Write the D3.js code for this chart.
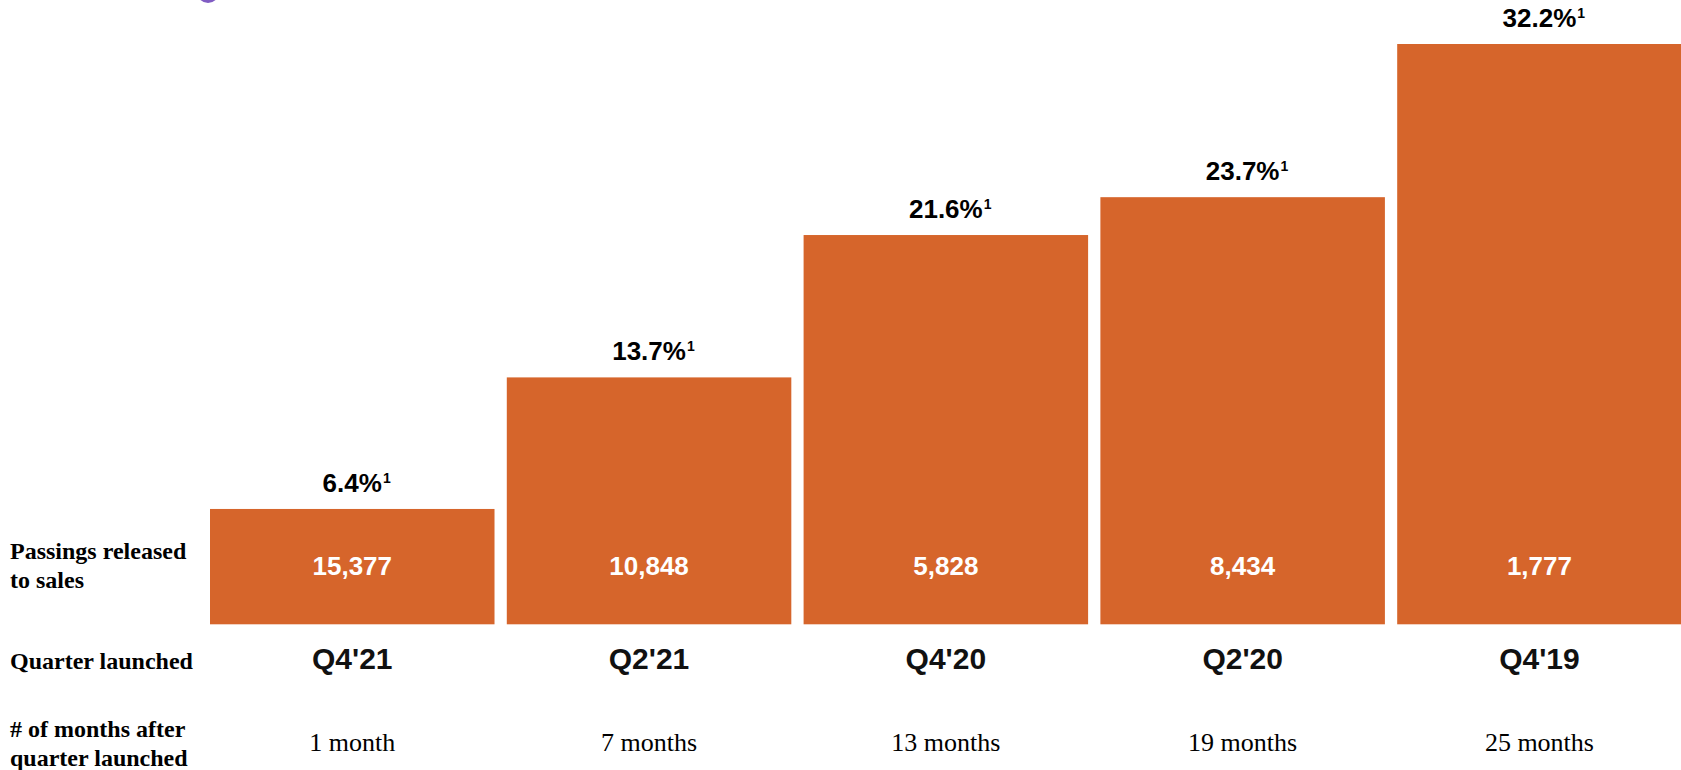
<!DOCTYPE html>
<html>
<head>
<meta charset="utf-8">
<script src="https://cdn.jsdelivr.net/npm/d3@7"></script>
<style>
  html, body { margin: 0; padding: 0; background: #ffffff; overflow: hidden; }
  svg { display: block; }
</style>
</head>
<body>
<svg id="chart" width="1681" height="770"></svg>
<script>
// Penetration by launch cohort
const quarters = ["Q4'21", "Q2'21", "Q4'20", "Q2'20", "Q4'19"];
const penetration = [6.4, 13.7, 21.6, 23.7, 32.2];
const passings = [15377, 10848, 5828, 8434, 1777];
const monthsAfter = ["1 month", "7 months", "13 months", "19 months", "25 months"];
const rowLabels = [
  ["Passings released", "to sales"],
  ["Quarter launched"],
  ["# of months after", "quarter launched"]
];

const svg = d3.select("#chart");
const SANS = "'Liberation Sans', Arial, sans-serif";
const SERIF = "'Liberation Serif', 'Times New Roman', serif";
const BAR = "#D6652B";

const x = d3.scaleBand()
  .domain(quarters)
  .range([210, 1681.7])
  .paddingInner(0.0414)
  .paddingOuter(0);

const y = d3.scaleLinear()
  .domain([0, d3.max(penetration)])
  .range([624.3, 44]);

const data = quarters.map((q, i) => ({
  q, pct: penetration[i], n: passings[i], months: monthsAfter[i]
}));

// partially visible logo mark at the top edge
svg.append("circle")
  .attr("cx", 208).attr("cy", -8).attr("r", 11)
  .attr("fill", "#6a3fb8").attr("opacity", 0.85);

// bars
svg.append("g").selectAll("rect")
  .data(data).join("rect")
  .attr("x", d => x(d.q))
  .attr("y", d => y(d.pct))
  .attr("width", x.bandwidth())
  .attr("height", d => y(0) - y(d.pct))
  .attr("fill", BAR);

// penetration labels with footnote marker
const pctG = svg.append("g");
data.forEach(d => {
  const cx = x(d.q) + x.bandwidth() / 2;
  const by = y(d.pct) - 17;
  const t = pctG.append("text")
    .attr("x", cx).attr("y", by)
    .attr("text-anchor", "middle")
    .attr("font-family", SANS).attr("font-weight", "bold")
    .attr("font-size", 26).attr("fill", "#000")
    .text(d.pct.toFixed(1) + "%");
  const w = t.node().getComputedTextLength();
  pctG.append("text")
    .attr("x", cx + w / 2 + 1).attr("y", by - 9)
    .attr("font-family", SANS).attr("font-weight", "bold")
    .attr("font-size", 14).attr("fill", "#000")
    .text("1");
});

// passings inside bars
svg.append("g").selectAll("text")
  .data(data).join("text")
  .attr("x", d => x(d.q) + x.bandwidth() / 2)
  .attr("y", 575)
  .attr("text-anchor", "middle")
  .attr("font-family", SANS).attr("font-weight", "bold")
  .attr("font-size", 26).attr("fill", "#ffffff")
  .text(d => d3.format(",")(d.n));

// quarter labels
svg.append("g").selectAll("text")
  .data(data).join("text")
  .attr("x", d => x(d.q) + x.bandwidth() / 2)
  .attr("y", 669)
  .attr("text-anchor", "middle")
  .attr("font-family", SANS).attr("font-weight", "bold")
  .attr("font-size", 30).attr("fill", "#111")
  .text(d => d.q);

// months after launch
svg.append("g").selectAll("text")
  .data(data).join("text")
  .attr("x", d => x(d.q) + x.bandwidth() / 2)
  .attr("y", 751)
  .attr("text-anchor", "middle")
  .attr("font-family", SERIF)
  .attr("font-size", 26).attr("fill", "#000")
  .text(d => d.months);

// row headers
const rowBaselines = [559.3, 669, 736.7];
const rowG = svg.append("g");
rowLabels.forEach((lines, i) => {
  const t = rowG.append("text")
    .attr("x", 10).attr("y", rowBaselines[i])
    .attr("font-family", SERIF).attr("font-weight", "bold")
    .attr("font-size", 24).attr("fill", "#000");
  lines.forEach((line, j) => {
    t.append("tspan")
      .attr("x", 10)
      .attr("dy", j === 0 ? 0 : 28.8)
      .text(line);
  });
});
</script>
</body>
</html>
